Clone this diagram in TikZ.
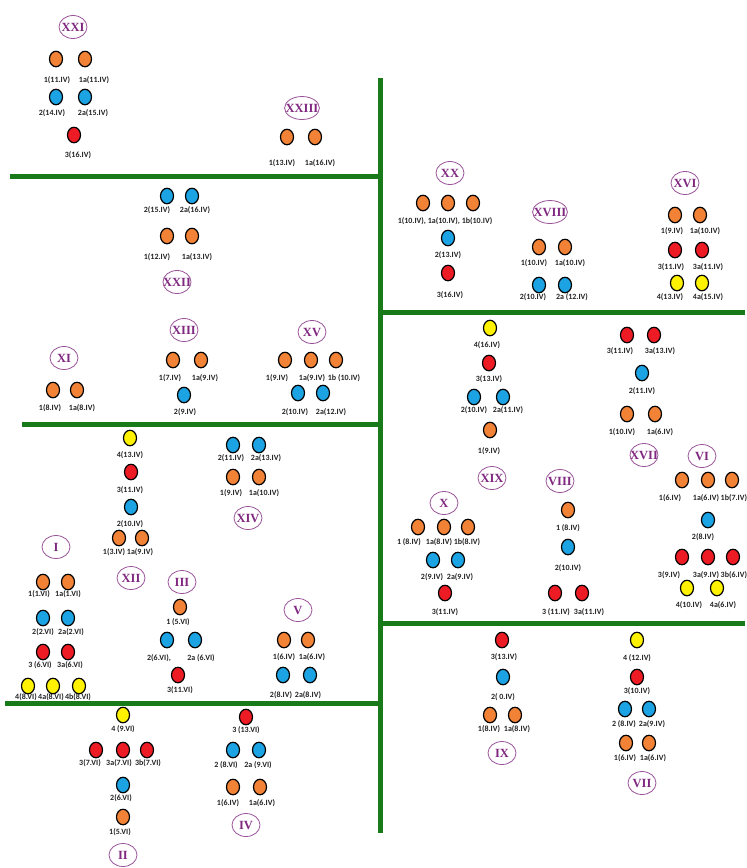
\documentclass[tikz,border=0pt]{standalone}
\usepackage{fontspec}
\setmainfont{Liberation Serif}
\newfontfamily\tagfont{Carlito}
\usetikzlibrary{shapes.geometric}
\definecolor{dotor}{RGB}{241,130,54}
\definecolor{dotbl}{RGB}{28,163,227}
\definecolor{dotrd}{RGB}{237,28,36}
\definecolor{dotye}{RGB}{255,242,0}
\definecolor{divgreen}{RGB}{24,122,24}
\definecolor{numpurple}{RGB}{128,40,128}
\definecolor{tagtext}{RGB}{35,35,35}
\tikzset{
  divider/.style={line width=5pt, draw=divgreen},
  spot/.style={ellipse, draw=black, line width=1.2pt, minimum width=13pt, minimum height=15.5pt, inner sep=0pt},
  tag/.style={font=\tagfont\bfseries\fontsize{8}{9}\selectfont, text=tagtext, inner sep=0pt},
  numeral/.style={ellipse, draw=numpurple!80, line width=0.8pt, text=numpurple, font=\bfseries\fontsize{12.5}{13}\selectfont, minimum width=28pt, minimum height=23pt, inner xsep=-4pt, inner ysep=0pt}
}
\begin{document}
\begin{tikzpicture}[x=1pt,y=-1pt]
        \useasboundingbox (0,0) rectangle (747,868);
        \draw[divider] (380,78) -- (380,833);
        \draw[divider] (10,176) -- (380,176);
        \draw[divider] (380,312) -- (745,312);
        \draw[divider] (22,424) -- (380,424);
        \draw[divider] (380,623) -- (745,623);
        \draw[divider] (5,703) -- (380,703);
        \foreach \nm/\x/\y/\lbl in {n21/73/27/XXI, n23/302/108/XXIII, n22/177/282/XXII, n13/184/330/XIII,
            n11/64/358/XI, n15/312/332/XV, n20/450/173/XX, n18/550/212/XVIII, n16/685/183/XVI,
            n19/492/478/XIX, n17/644/455/XVII, n6/702/456/VI, n10/444/503/X, n8/560/481/VIII,
            n12/131/578/XII, n1/56/547/I, n3/182/582/III, n14/248/518/XIV, n5/298/610/V,
            n2/123/855/II, n4/246/825/IV, n9/502/753/IX, n7/642/783/VII}{
          \node[numeral] (\nm) at (\x,\y) {\lbl};
        }
        \foreach \nm/\x/\y/\col in {s21a/56/59/dotor, s21b/85/59/dotor, s21c/56/97/dotbl, s21d/85/97/dotbl, s21e/74/135/dotrd,
            s23a/287/137/dotor, s23b/315/137/dotor,
            s22a/167/196/dotbl, s22b/192/196/dotbl, s22c/167/236/dotor, s22d/192/236/dotor,
            s13a/173/360/dotor, s13b/201/360/dotor, s13c/184/395/dotbl,
            s11a/53/390/dotor, s11b/77/390/dotor,
            s15a/285/360/dotor, s15b/311/360/dotor, s15c/336/360/dotor, s15d/298/393/dotbl, s15e/323/393/dotbl,
            s20a/423/203/dotor, s20b/448/203/dotor, s20c/473/203/dotor, s20d/448/238/dotbl, s20e/448/273/dotrd,
            s18a/539/247/dotor, s18b/565/247/dotor, s18c/539/285/dotbl, s18d/565/285/dotbl,
            s16a/675/215/dotor, s16b/700/215/dotor, s16c/675/250/dotrd, s16d/702/250/dotrd, s16e/677/283/dotye, s16f/702/283/dotye,
            s19a/490/328/dotye, s19b/489/363/dotrd, s19c/474/397/dotbl, s19d/503/397/dotbl, s19e/490/430/dotor,
            s17a/627/335/dotrd, s17b/654/335/dotrd, s17c/642/373/dotbl, s17d/627/414/dotor, s17e/655/414/dotor,
            s6a/682/480/dotor, s6b/708/480/dotor, s6c/732/480/dotor, s6d/708/520/dotbl,
            s6e/682/557/dotrd, s6f/708/557/dotrd, s6g/733/557/dotrd, s6h/687/588/dotye, s6i/717/588/dotye,
            s10a/418/527/dotor, s10b/444/527/dotor, s10c/468/527/dotor, s10d/433/560/dotbl, s10e/458/560/dotbl, s10f/445/593/dotrd,
            s8a/568/510/dotor, s8b/568/547/dotbl, s8c/555/593/dotrd, s8d/582/593/dotrd,
            s12a/130/438/dotye, s12b/131/472/dotrd, s12c/131/507/dotbl, s12d/119/538/dotor, s12e/142/538/dotor,
            s1a/43/582/dotor, s1b/68/582/dotor, s1c/43/618/dotbl, s1d/68/618/dotbl, s1e/43/652/dotrd, s1f/68/652/dotrd,
            s1g/28/686/dotye, s1h/53/686/dotye, s1i/79/686/dotye,
            s3a/180/607/dotor, s3b/167/640/dotbl, s3c/195/640/dotbl, s3d/178/675/dotrd,
            s14a/233/445/dotbl, s14b/259/445/dotbl, s14c/233/477/dotor, s14d/259/477/dotor,
            s5a/284/640/dotor, s5b/308/640/dotor, s5c/283/675/dotbl, s5d/310/675/dotbl,
            s2a/123/715/dotye, s2b/96/750/dotrd, s2c/123/750/dotrd, s2d/147/750/dotrd, s2e/123/785/dotbl, s2f/123/817/dotor,
            s4a/246/717/dotrd, s4b/233/750/dotbl, s4c/259/750/dotbl, s4d/233/787/dotor, s4e/260/787/dotor,
            s9a/502/640/dotrd, s9b/503/677/dotbl, s9c/490/715/dotor, s9d/515/715/dotor,
            s7a/637/640/dotye, s7b/637/677/dotrd, s7c/625/709/dotbl, s7d/649/709/dotbl, s7e/626/743/dotor, s7f/649/743/dotor}{
          \node[spot, fill=\col] (\nm) at (\x,\y) {};
        }
        \foreach \nm/\x/\y/\lbl in {t21a/57/80/1(11.IV), t21b/94/80/1a(11.IV), t21c/52/113/2(14.IV), t21d/93/113/2a(15.IV), t21e/78/155/3(16.IV),
            t23a/282/163/1(13.IV), t23b/320/163/1a(16.IV),
            t22a/157/210/2(15.IV), t22b/195/210/2a(16.IV), t22c/157/257/1(12.IV), t22d/197/257/1a(13.IV),
            t13a/170/378/1(7.IV), t13b/205/378/1a(9.IV), t13c/185/412/2(9.IV),
            t11a/50/408/1(8.IV), t11b/82/408/1a(8.IV),
            t15a/277/378/1(9.IV), t15b/312/378/1a(9.IV), t15c/344/378/1b (10.IV), t15d/295/412/2(10.IV), t15e/331/412/2a(12.IV),
            t20a/445/221/{1(10.IV), 1a(10.IV), 1b(10.IV)}, t20b/448/255/2(13.IV), t20c/450/295/3(16.IV),
            t18a/534/263/1(10.IV), t18b/570/263/1a(10.IV), t18c/533/297/2(10.IV), t18d/572/297/2a (12.IV),
            t16a/672/231/1(9.IV), t16b/705/231/1a(10.IV), t16c/671/267/3(11.IV), t16d/708/267/3a(11.IV), t16e/670/297/4(13.IV), t16f/708/297/4a(15.IV),
            t19a/487/345/4(16.IV), t19b/489/379/3(13.IV), t19c/474/410/2(10.IV), t19d/508/410/2a(11.IV), t19e/489/451/1(9.IV),
            t17a/620/351/3(11.IV), t17b/660/351/3a(13.IV), t17c/642/391/2(11.IV), t17d/622/432/1(10.IV), t17e/660/432/1a(6.IV),
            t6a/670/498/1(6.IV), t6b/706/498/1a(6.IV), t6d/703/537/2(8.IV), t6e/669/575/3(9.IV), t6f/706/575/3a(9.IV),
            t6h/689/605/4(10.IV), t6i/723/605/4a(6.IV),
            t10a/409/542/1 (8.IV), t10b/439/542/1a(8.IV), t10c/467/542/1b(8.IV), t10d/432/577/2(9.IV), t10e/460/577/2a(9.IV), t10f/445/612/3(11.IV),
            t8a/568/528/1 (8.IV), t8b/568/568/2(10.IV), t8c/556/612/3 (11.IV), t8d/589/612/3a(11.IV),
            t12a/130/455/4(13.IV), t12b/130/490/3(11.IV), t12c/130/524/2(10.IV), t12d/114/552/1(3.IV), t12e/140/552/1a(9.IV),
            t1a/39/594/1(1.VI), t1b/68/594/1a(1.VI), t1c/43/632/2(2.VI), t1d/71/632/2a(2.VI), t1e/40/665/3 (6.VI), t1f/70/665/3a(6.VI),
            t1g/26/697/4(8.VI), t1h/51/697/4a(8.VI), t1i/78/697/4b(8.VI),
            t3a/178/622/1 (5.VI), t3b/159/658/{2(6.VI),}, t3c/201/658/2a (6.VI), t3d/180/690/3(11.VI),
            t14a/231/458/2(11.IV), t14b/266/458/2a(13.IV), t14c/231/493/1(9.IV), t14d/264/493/1a(10.IV),
            t5a/284/657/1(6.IV), t5b/312/657/1a(6.IV), t5c/281/695/2(8.IV), t5d/308/695/2a(8.IV),
            t2a/123/729/4 (9.VI), t2b/90/763/3(7.VI), t2c/119/763/3a(7.VI), t2d/148/763/3b(7.VI), t2e/121/798/2(6.VI), t2f/120/832/1(5.VI),
            t4a/246/730/3 (13.VI), t4b/226/765/2 (8.VI), t4c/258/765/2a (9.VI), t4d/228/803/1(6.IV), t4e/262/803/1a(6.IV),
            t9a/504/657/3(13.IV), t9b/503/697/2( 0.IV), t9c/489/729/1(8.IV), t9d/517/729/1a(8.IV),
            t7a/637/658/4 (12.IV), t7b/637/691/3(10.IV), t7c/624/724/2 (8.IV), t7d/652/724/2a(9.IV), t7e/625/758/1(6.IV), t7f/653/758/1a(6.IV)}{
          \node[tag] (\nm) at (\x,\y) {\lbl};
        }
        \node[tag, anchor=west] (t6c) at (720.5,498) {1b(7.IV)};
        \node[tag, anchor=west] (t6g) at (720.5,575) {3b(6.IV)};
      \end{tikzpicture}
\end{document}
